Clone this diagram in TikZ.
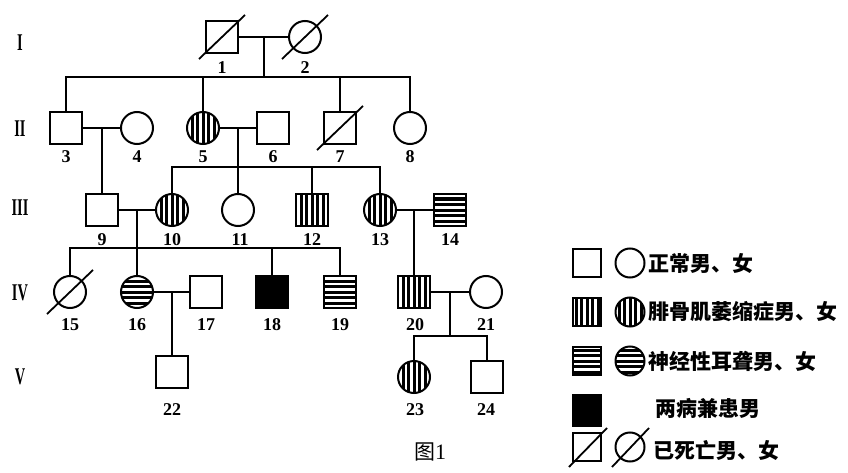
\documentclass[tikz,border=0pt]{standalone}
\usepackage{fontspec}
\setmainfont{Liberation Serif}
\newfontfamily\cjk{Noto Sans CJK SC}
\begin{document}
\begin{tikzpicture}[x=1pt,y=-1pt,
 base/.style={draw,line width=2pt,inner sep=0pt,outer sep=0pt},
 male/.style={base,rectangle,minimum size=32pt},
 female/.style={base,circle,minimum size=32pt},
 lmale/.style={base,rectangle,minimum size=28pt},
 lfemale/.style={base,circle,minimum size=29pt},
 vstripes/.style={path picture={\foreach \d in {-16.5,-11,-5.5,0,5.5,11,16.5}
   \draw[line width=3pt] ([xshift=\d pt,yshift=20pt]path picture bounding box.center) -- ([xshift=\d pt,yshift=-20pt]path picture bounding box.center);}},
 hstripes/.style={path picture={\foreach \d in {-16.5,-11,-5.5,0,5.5,11,16.5}
   \draw[line width=3pt] ([yshift=\d pt,xshift=20pt]path picture bounding box.center) -- ([yshift=\d pt,xshift=-20pt]path picture bounding box.center);}},
 conn/.style={line width=2pt},
 slash/.style={line width=1.8pt},
 num/.style={font=\fontsize{18}{18}\selectfont\bfseries,inner sep=0pt},
 gen/.style={font=\fontsize{24}{24}\selectfont\bfseries,inner sep=0pt},
 leg/.style={font=\cjk\bfseries\fontsize{21}{21}\selectfont,anchor=west,inner sep=0pt}
]
\useasboundingbox[fill=white] (0,0) rectangle (848,473);

% generation numerals
\node[gen] (gI) at (20,43) {\scalebox{0.6}[1]{I}};
\node[gen] (gII) at (20,129) {\scalebox{0.6}[1]{II}};
\node[gen] (gIII) at (20,208) {\scalebox{0.6}[1]{III}};
\node[gen] (gIV) at (20,293) {\scalebox{0.6}[1]{IV}};
\node[gen] (gV) at (20,377) {\scalebox{0.6}[1]{V}};

% generation I
\node[male] (n1) at (222,37) {};
\node[female] (n2) at (305,37) {};
% generation II
\node[male] (n3) at (66,128) {};
\node[female] (n4) at (137,128) {};
\node[female,vstripes] (n5) at (203,128) {};
\node[male] (n6) at (273,128) {};
\node[male] (n7) at (340,128) {};
\node[female] (n8) at (410,128) {};
% generation III
\node[male] (n9) at (102,210) {};
\node[female,vstripes] (n10) at (172,210) {};
\node[female] (n11) at (238,210) {};
\node[male,vstripes] (n12) at (312,210) {};
\node[female,vstripes] (n13) at (380,210) {};
\node[male,hstripes] (n14) at (450,210) {};
% generation IV
\node[female] (n15) at (70,292) {};
\node[female,hstripes] (n16) at (137,292) {};
\node[male] (n17) at (206,292) {};
\node[male,fill=black] (n18) at (272,292) {};
\node[male,hstripes] (n19) at (340,292) {};
\node[male,vstripes] (n20) at (414,292) {};
\node[female] (n21) at (486,292) {};
% generation V
\node[male] (n22) at (172,372) {};
\node[female,vstripes] (n23) at (414,377) {};
\node[male] (n24) at (487,377) {};

% dead slashes
\foreach \n in {n1,n2,n7,n15}
  \draw[slash] ([xshift=-23pt,yshift=-22pt]\n.center) -- ([xshift=23pt,yshift=22pt]\n.center);

% connectors
\coordinate (m12) at (264,37);
\coordinate (s1) at (264,77);
\draw[conn] (n1) -- (n2);
\draw[conn] (m12) -- (s1);
\draw[conn] (n3.north) -- (n3.north |- s1) -- (n8.north |- s1) -- (n8.north);
\draw[conn] (n5.north) -- (n5.north |- s1);
\draw[conn] (n7.north) -- (n7.north |- s1);

\coordinate (m34) at (102,128);
\draw[conn] (n3) -- (n4);
\draw[conn] (m34) -- (n9.north);

\coordinate (m56) at (238,128);
\coordinate (s2) at (238,167);
\draw[conn] (n5) -- (n6);
\draw[conn] (m56) -- (s2);
\draw[conn] (n10.north) -- (n10.north |- s2) -- (n13.north |- s2) -- (n13.north);
\draw[conn] (n11.north) -- (n11.north |- s2);
\draw[conn] (n12.north) -- (n12.north |- s2);

\coordinate (m910) at (137,210);
\coordinate (s3) at (137,248);
\draw[conn] (n9) -- (n10);
\draw[conn] (m910) -- (n16.north);
\draw[conn] (n15.north) -- (n15.north |- s3) -- (n19.north |- s3) -- (n19.north);
\draw[conn] (n18.north) -- (n18.north |- s3);

\coordinate (m1314) at (414,210);
\draw[conn] (n13) -- (n14);
\draw[conn] (m1314) -- (n20.north);

\coordinate (m1617) at (172,292);
\draw[conn] (n16) -- (n17);
\draw[conn] (m1617) -- (n22.north);

\coordinate (m2021) at (450,292);
\coordinate (s4) at (450,336);
\draw[conn] (n20) -- (n21);
\draw[conn] (m2021) -- (s4);
\draw[conn] (n23.north) -- (n23.north |- s4) -- (n24.north |- s4) -- (n24.north);

% numbers
\node[num] (l1) at (222,68) {1};
\node[num] (l2) at (305,68) {2};
\node[num] (l3) at (66,157) {3};
\node[num] (l4) at (137,157) {4};
\node[num] (l5) at (203,157) {5};
\node[num] (l6) at (273,157) {6};
\node[num] (l7) at (340,157) {7};
\node[num] (l8) at (410,157) {8};
\node[num] (l9) at (102,240) {9};
\node[num] (l10) at (172,240) {10};
\node[num] (l11) at (240,240) {11};
\node[num] (l12) at (312,240) {12};
\node[num] (l13) at (380,240) {13};
\node[num] (l14) at (450,240) {14};
\node[num] (l15) at (70,325) {15};
\node[num] (l16) at (137,325) {16};
\node[num] (l17) at (206,325) {17};
\node[num] (l18) at (272,325) {18};
\node[num] (l19) at (340,325) {19};
\node[num] (l20) at (415,325) {20};
\node[num] (l21) at (486,325) {21};
\node[num] (l22) at (172,410) {22};
\node[num] (l23) at (415,410) {23};
\node[num] (l24) at (486,410) {24};

% caption
\node[inner sep=0pt] (cap) at (430,452) {{\cjk\fontsize{21}{21}\selectfont 图}\fontsize{22}{22}\selectfont 1};

% legend
\node[lmale] (k1a) at (587,263) {};
\node[lfemale] (k1b) at (630,263) {};
\node[leg] (t1) at (648,263) {正常男、女};
\node[lmale,vstripes] (k2a) at (587,312) {};
\node[lfemale,vstripes] (k2b) at (630,312) {};
\node[leg] (t2) at (648,312) {腓骨肌萎缩症男、女};
\node[lmale,hstripes] (k3a) at (587,361) {};
\node[lfemale,hstripes] (k3b) at (630,361) {};
\node[leg] (t3) at (648,361) {神经性耳聋男、女};
\node[base,rectangle,fill=black,minimum width=28pt,minimum height=31pt] (k4a) at (587,410) {};
\node[leg] (t4) at (655,408) {两病兼患男};
\node[lmale] (k5a) at (587,447) {};
\node[lfemale] (k5b) at (630,447) {};
\draw[slash] ([xshift=-18pt,yshift=-20pt]k5a.center) -- ([xshift=20pt,yshift=19pt]k5a.center);
\draw[slash] ([xshift=-18pt,yshift=-20pt]k5b.center) -- ([xshift=19pt,yshift=19pt]k5b.center);
\node[leg] (t5) at (653,450) {已死亡男、女};
\end{tikzpicture}
\end{document}
